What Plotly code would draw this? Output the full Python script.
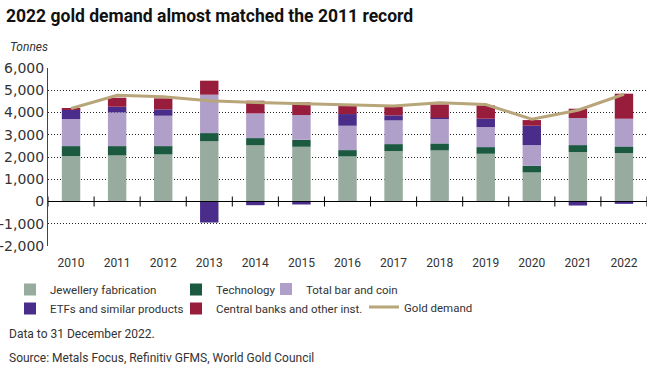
import plotly.graph_objects as go

# ---------------- data ----------------
years = ["2010", "2011", "2012", "2013", "2014", "2015", "2016",
         "2017", "2018", "2019", "2020", "2021", "2022"]
jewellery = [2040, 2070, 2115, 2715, 2535, 2460, 2025, 2265, 2295, 2145, 1305, 2220, 2175]
technology = [450, 420, 375, 360, 315, 315, 285, 315, 315, 300, 300, 315, 300]
bar_coin = [1215, 1515, 1365, 1725, 1110, 1110, 1095, 1065, 1110, 900, 930, 1215, 1245]
etfs = [450, 255, 285, -945, -165, -135, 525, 225, 45, 375, 870, -180, -105]
central_banks = [45, 405, 495, 630, 570, 570, 360, 375, 600, 600, 255, 420, 1125]
gold_demand = [4180, 4770, 4710, 4530, 4450, 4390, 4360, 4290, 4440, 4360, 3700, 4100, 4820]

y_ticks = [-2000, -1000, 0, 1000, 2000, 3000, 4000, 5000, 6000]
y_tick_text = ["-2,000", "-1,000", "0", "1,000", "2,000", "3,000", "4,000", "5,000", "6,000"]

# ---------------- layout geometry ----------------
W, H = 662, 369
L, R, T, B = 48, 15, 68, 123
PW, PH = W - L - R, H - T - B
FONT = "Roboto, Arial, sans-serif"
TXT = "#333333"

def px_x(px):
    return (px - L) / PW

def px_y(py):
    return (H - B - py) / PH

def cx(px):
    return px / W

def cy(py):
    return 1 - py / H

fig = go.Figure()

series = [
    ("Jewellery fabrication", jewellery, "#97ab9e", "legend"),
    ("Technology", technology, "#1b5a40", "legend2"),
    ("Total bar and coin", bar_coin, "#b09fc9", "legend3"),
    ("ETFs and similar products", etfs, "#4a2c8b", "legend"),
    ("Central banks and other inst.", central_banks, "#981d3d", "legend2"),
]
for name, vals, col, lg in series:
    fig.add_trace(go.Bar(x=years, y=vals, name=name, marker_color=col,
                         marker_line_width=0, legend=lg))

fig.add_trace(go.Scatter(x=years, y=gold_demand, name="Gold demand", mode="lines",
                         line=dict(color="#b8a57a", width=3), legend="legend4"))

legend_common = dict(xref="container", yref="container", xanchor="left", yanchor="middle",
                     font=dict(family=FONT, size=11.5, color=TXT), bgcolor="rgba(0,0,0,0)",
                     traceorder="normal", itemwidth=30, tracegroupgap=0)

fig.update_layout(
    width=W, height=H,
    margin=dict(l=L, r=R, t=T, b=B, autoexpand=False),
    paper_bgcolor="white", plot_bgcolor="white",
    barmode="relative", bargap=0.6,
    title=dict(text="<b>2022 gold demand almost matched the 2011 record</b>",
               xref="container", yref="container", x=cx(6), y=cy(16),
               xanchor="left", yanchor="middle",
               font=dict(family=FONT, size=17.5, color="#111111")),
    legend=dict(x=cx(10), y=cy(299), **legend_common),
    legend2=dict(x=cx(176), y=cy(299), **legend_common),
    legend3=dict(x=cx(266), y=cy(289), **legend_common),
    legend4=dict(x=cx(364), y=cy(307), **legend_common),
    xaxis=dict(type="category", range=[-0.5, 12.5], showline=False, ticks="",
               showgrid=False, ticklabelstandoff=8,
               tickfont=dict(family=FONT, size=12, color=TXT)),
    yaxis=dict(range=[-2000, 6000], tickvals=y_ticks, ticktext=y_tick_text,
               showgrid=True, gridcolor="#222222", griddash="1px,2px", gridwidth=1,
               zeroline=False, showline=True, linecolor="#444444", linewidth=1,
               ticks="", tickfont=dict(family="DejaVu Sans", size=14, color=TXT)),
    showlegend=True,
)

# zero line and category-boundary ticks crossing it
fig.add_shape(type="line", xref="paper", yref="y", x0=0, x1=1, y0=0, y1=0,
              line=dict(color="black", width=1), layer="above")
for i in range(len(years) + 1):
    fig.add_shape(type="line", xref="x", yref="y", ysizemode="pixel", yanchor=0,
                  x0=i - 0.5, x1=i - 0.5, y0=-5, y1=5,
                  line=dict(color="black", width=1), layer="above")

fig.add_annotation(text="<i>Tonnes</i>", xref="paper", yref="paper",
                   x=px_x(8), y=px_y(47), xanchor="left", yanchor="middle",
                   showarrow=False, font=dict(family=FONT, size=12, color=TXT))
fig.add_annotation(text="Data to 31 December 2022.", xref="paper", yref="paper",
                   x=px_x(7), y=px_y(334), xanchor="left", yanchor="middle",
                   showarrow=False, font=dict(family=FONT, size=12, color=TXT))
fig.add_annotation(text="Source: Metals Focus, Refinitiv GFMS, World Gold Council",
                   xref="paper", yref="paper",
                   x=px_x(7), y=px_y(358), xanchor="left", yanchor="middle",
                   showarrow=False, font=dict(family=FONT, size=12, color=TXT))

fig.write_html("out.html", config={"displayModeBar": False},
               post_script="document.body.style.margin='0';")
